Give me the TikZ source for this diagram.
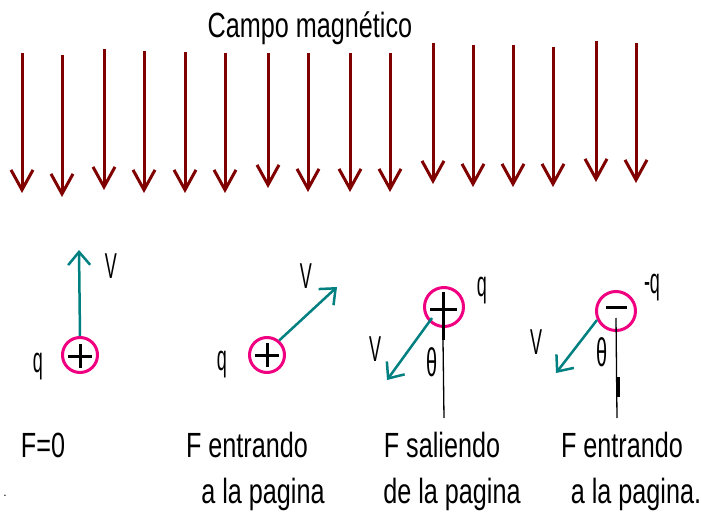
\documentclass[tikz,border=0pt]{standalone}
\usepackage{fontspec}
\setmainfont{Liberation Sans}
\usetikzlibrary{arrows.meta}
\definecolor{fieldred}{RGB}{128,0,0}
\definecolor{vteal}{RGB}{0,128,128}
\definecolor{qpink}{RGB}{240,0,128}
\begin{document}
\begin{tikzpicture}[x=1pt,y=-1pt,
  field/.style={draw=fieldred,line width=3pt,-{Straight Barb[length=20pt,width=22pt,line width=3pt]}},
  vel/.style={draw=vteal,line width=2.5pt,-{Straight Barb[length=13pt,width=22pt,line width=2.5pt]}},
  charge/.style={circle,draw=qpink,line width=3pt,minimum size=35pt,inner sep=0pt},
  bigtxt/.style={font=\fontsize{35}{35}\selectfont,xscale=0.72,inner sep=0pt,anchor=base},
  smalltxt/.style={font=\fontsize{36}{36}\selectfont,xscale=0.5,inner sep=0pt},
  sign/.style={line width=3pt,black},
  refline/.style={line width=1.3pt,black}]
\useasboundingbox (0,0) rectangle (702,516);
\fill[white] (0,0) rectangle (702,516);
% title
\node[bigtxt] (title) at (310,38) {Campo magnético};
% field arrows
\foreach \x/\t/\b [count=\i] in {22/53/193, 62/55/197, 104/49/190, 144/51/193, 185/52/193, 225/53/193, 268/53/188, 308/53/192, 350/53/192, 390/53/192, 433/43/184, 473/45/187, 513/45/187, 553/47/187, 596/41/182, 636/43/183}{
  \coordinate (ft\i) at (\x,\t);
  \coordinate (fb\i) at (\x,\b);
  \draw[field] (ft\i) -- (fb\i);
}
% charge 1
\node[charge] (c1) at (80,355) {};
\draw[sign] (68,356) -- (92,356) (80,344) -- (80,368);
\coordinate (v1) at (79,250);
\draw[vel] (c1.north) -- (v1);
\node[smalltxt] (V1) at (111,266) {V};
\node[smalltxt] (q1) at (38,367) {q};
% charge 2
\node[charge] (c2) at (267,355) {};
\draw[sign] (255,355) -- (279,355) (267,343) -- (267,367);
\coordinate (v2) at (337,287);
\draw[vel] (c2.50) -- (v2);
\node[smalltxt] (V2) at (306,276) {V};
\node[smalltxt] (q2) at (222,365) {q};
% charge 3
\node[charge,minimum size=39pt] (c3) at (444,307) {};
\draw[sign] (430,309) -- (457,309) (443,292) -- (443,340);
\coordinate (l3) at (444,418);
\draw[refline] (443,340) -- (l3);
\coordinate (v3) at (387,380);
\draw[vel] (432,318) -- (v3);
\node[smalltxt] (V3) at (375,349) {V};
\node[smalltxt,font=\fontsize{40}{40}\selectfont] (th3) at (432,362) {θ};
\node[smalltxt] (q3) at (482,291) {q};
% charge 4
\node[charge,minimum size=39pt] (c4) at (616,311) {};
\draw[sign] (606,307) -- (627,307);
\coordinate (l4) at (617,418);
\draw[refline] (616,318) -- (l4);
\draw[line width=3pt] (618,377) -- (618,397);
\coordinate (v4) at (556,373);
\draw[vel] (597,320) -- (v4);
\node[smalltxt] (V4) at (536,342) {V};
\node[smalltxt,font=\fontsize{40}{40}\selectfont] (th4) at (602,352) {θ};
\node[smalltxt] (q4) at (652,288) {-q};
% captions
\node[bigtxt] (f1) at (43,457) {F=0};
\node[bigtxt] (f2a) at (247,457) {F entrando};
\node[bigtxt] (f2b) at (263,503) {a la pagina};
\node[bigtxt] (f3a) at (442,457) {F saliendo};
\node[bigtxt] (f3b) at (452,503) {de la pagina};
\node[bigtxt] (f4a) at (622,457) {F entrando};
\node[bigtxt] (f4b) at (636,503) {a la pagina.};
\node[font=\fontsize{12}{12}\selectfont,inner sep=0pt] (dot) at (5,496) {.};
\end{tikzpicture}
\end{document}
